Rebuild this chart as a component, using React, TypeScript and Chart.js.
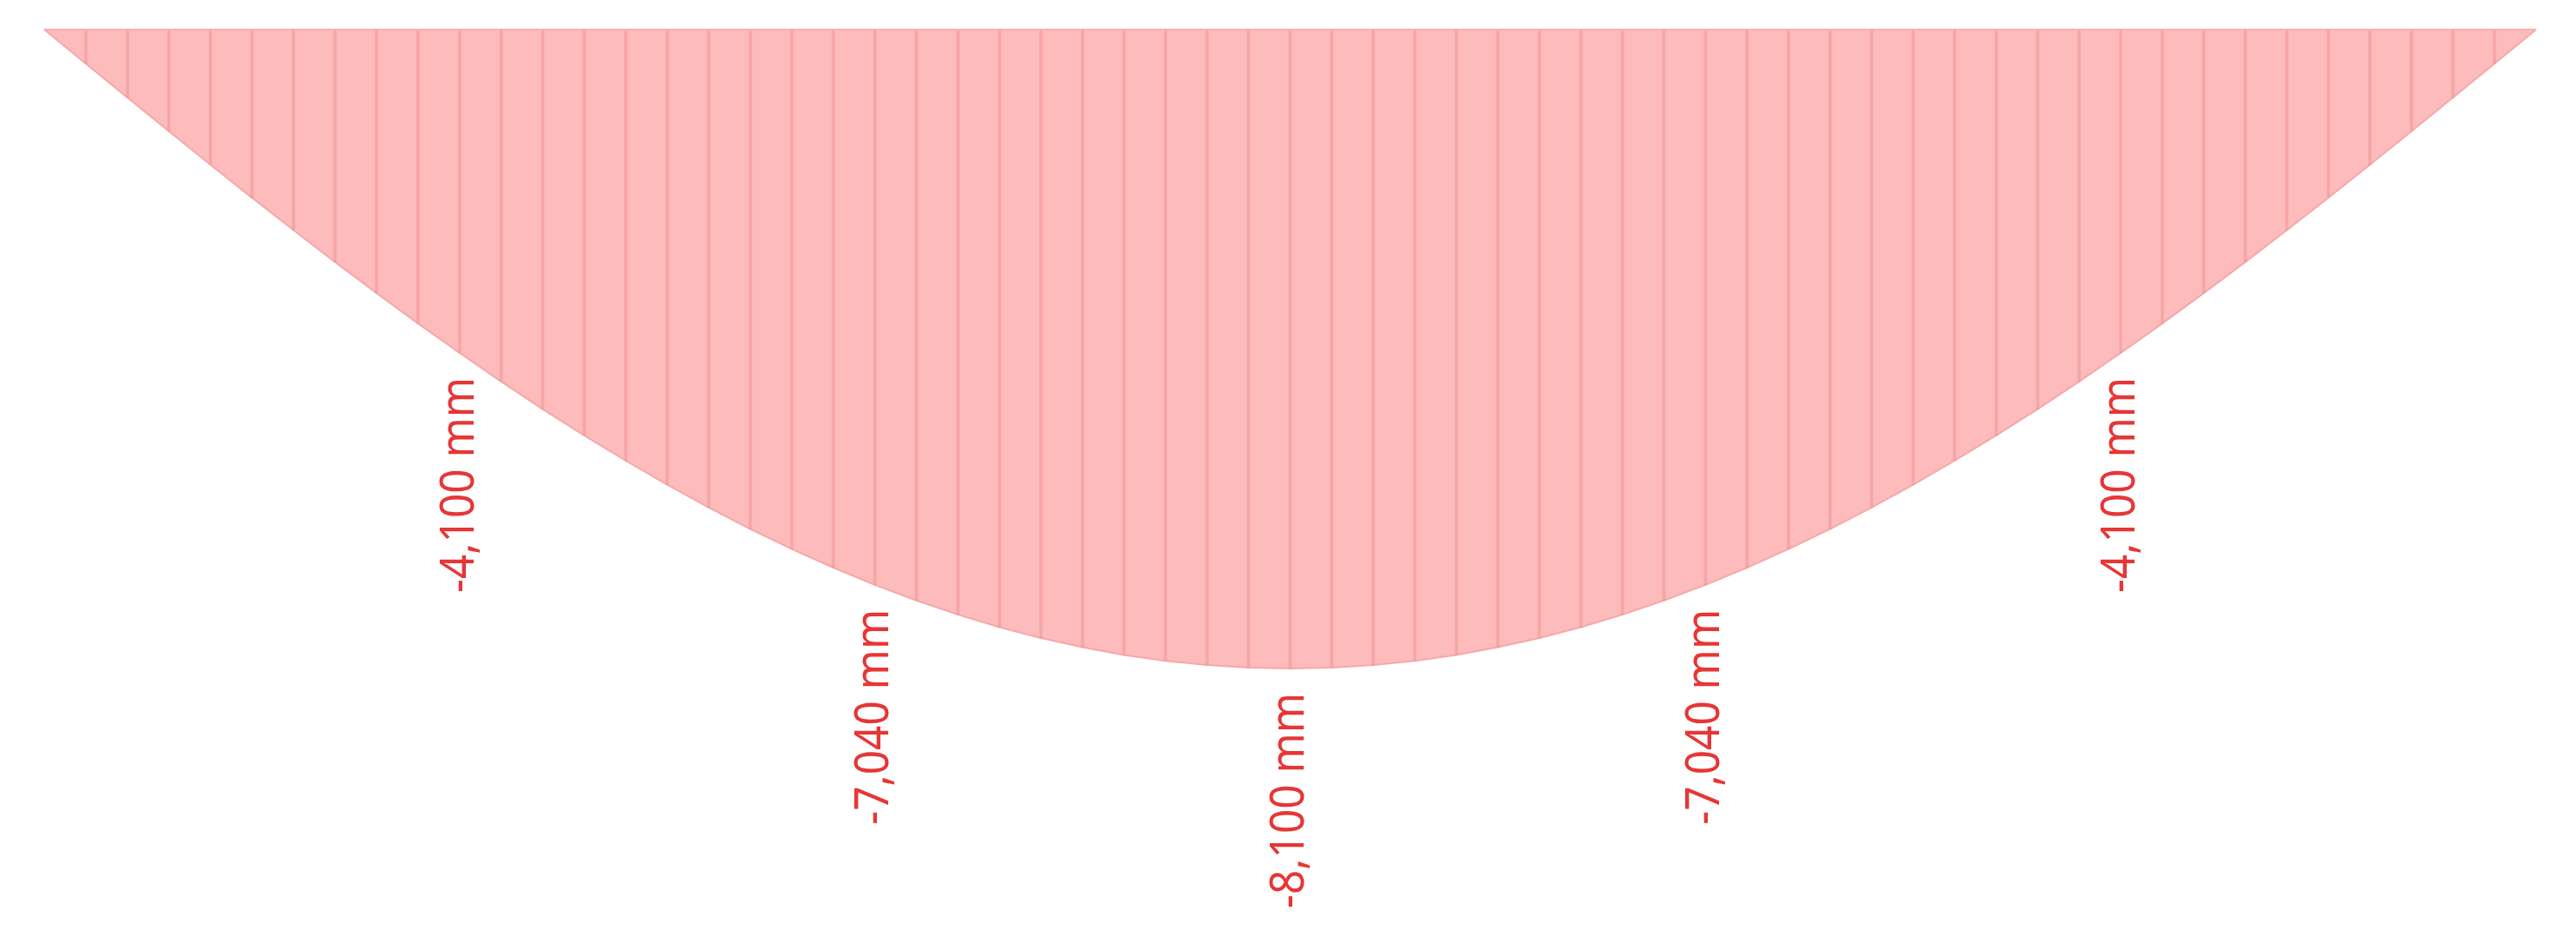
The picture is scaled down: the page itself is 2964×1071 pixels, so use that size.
import React, { useEffect, useRef } from 'react';
import { Chart, registerables } from 'chart.js';

Chart.register(...registerables);

// Deflection along the span (mm), 61 stations
const DEFLECTION = [
  0, -432, -862, -1290, -1713, -2131, -2543, -2947, -3341, -3726,
  -4100, -4462, -4811, -5146, -5466, -5771, -6060, -6332, -6586, -6822,
  -7040, -7238, -7417, -7576, -7714, -7831, -7928, -8003, -8057, -8089,
  -8100,
  -8089, -8057, -8003, -7928, -7831, -7714, -7576, -7417, -7238, -7040,
  -6822, -6586, -6332, -6060, -5771, -5466, -5146, -4811, -4462, -4100,
  -3726, -3341, -2947, -2543, -2131, -1713, -1290, -862, -432, 0,
];
const STATIONS = DEFLECTION.map((_, i) => i);
const LABEL_STATIONS = [10, 20, 30, 40, 50];

const W = 2964;
const H = 1071;

const overlay = {
  id: 'overlay',
  afterDatasetsDraw(chart: any) {
    const { ctx, scales } = chart;
    const x = scales.x;
    const y = scales.y;
    ctx.save();
    // baseline (undeformed axis)
    ctx.strokeStyle = '#F1B3B3';
    ctx.lineWidth = 2;
    ctx.beginPath();
    ctx.moveTo(x.getPixelForValue(STATIONS[0]), y.getPixelForValue(0));
    ctx.lineTo(x.getPixelForValue(STATIONS[STATIONS.length - 1]), y.getPixelForValue(0));
    ctx.stroke();
    // value labels
    ctx.fillStyle = '#E63636';
    ctx.font = '55px "Noto Sans", "Open Sans", sans-serif';
    ctx.textAlign = 'right';
    ctx.textBaseline = 'middle';
    LABEL_STATIONS.forEach((s) => {
      const v = DEFLECTION[STATIONS.indexOf(s)];
      const px = x.getPixelForValue(s);
      const py = y.getPixelForValue(v) + 28;
      ctx.save();
      ctx.translate(px, py);
      ctx.rotate(-Math.PI / 2);
      ctx.scale(0.9, 1);
      ctx.fillText(`${v.toLocaleString('en-US')} mm`, 0, 0);
      ctx.restore();
    });
    ctx.restore();
  },
};

export default function App() {
  const ref = useRef<HTMLCanvasElement>(null);
  useEffect(() => {
    if (!ref.current) return;
    const chart = new Chart(ref.current, {
      type: 'bar',
      data: {
        labels: STATIONS,
        datasets: [
          {
            type: 'bar',
            data: DEFLECTION,
            barThickness: 3,
            backgroundColor: 'rgba(232,130,130,0.35)',
            borderWidth: 0,
            order: 0,
            clip: false,
          } as any,
          {
            type: 'line',
            data: DEFLECTION,
            fill: 'origin',
            backgroundColor: '#FDBBBB',
            borderColor: '#F5A9A9',
            borderWidth: 2,
            pointRadius: 0,
            tension: 0,
            order: 1,
            clip: false,
          } as any,
        ],
      },
      options: {
        responsive: false,
        maintainAspectRatio: false,
        animation: false,
        devicePixelRatio: 1,
        layout: { padding: { left: 51, right: 46, top: 34, bottom: 302 } },
        plugins: { legend: { display: false }, tooltip: { enabled: false } },
        scales: {
          x: { type: 'linear', min: 0, max: 60, display: false, offset: false },
          y: { min: -8100, max: 0, display: false },
        },
      },
      plugins: [overlay],
    });
    return () => chart.destroy();
  }, []);
  return (
    <div style={{ position: 'absolute', left: 0, top: 0, width: W, height: H, background: '#fff' }}>
      <canvas ref={ref} width={W} height={H} style={{ width: W, height: H }} />
    </div>
  );
}
